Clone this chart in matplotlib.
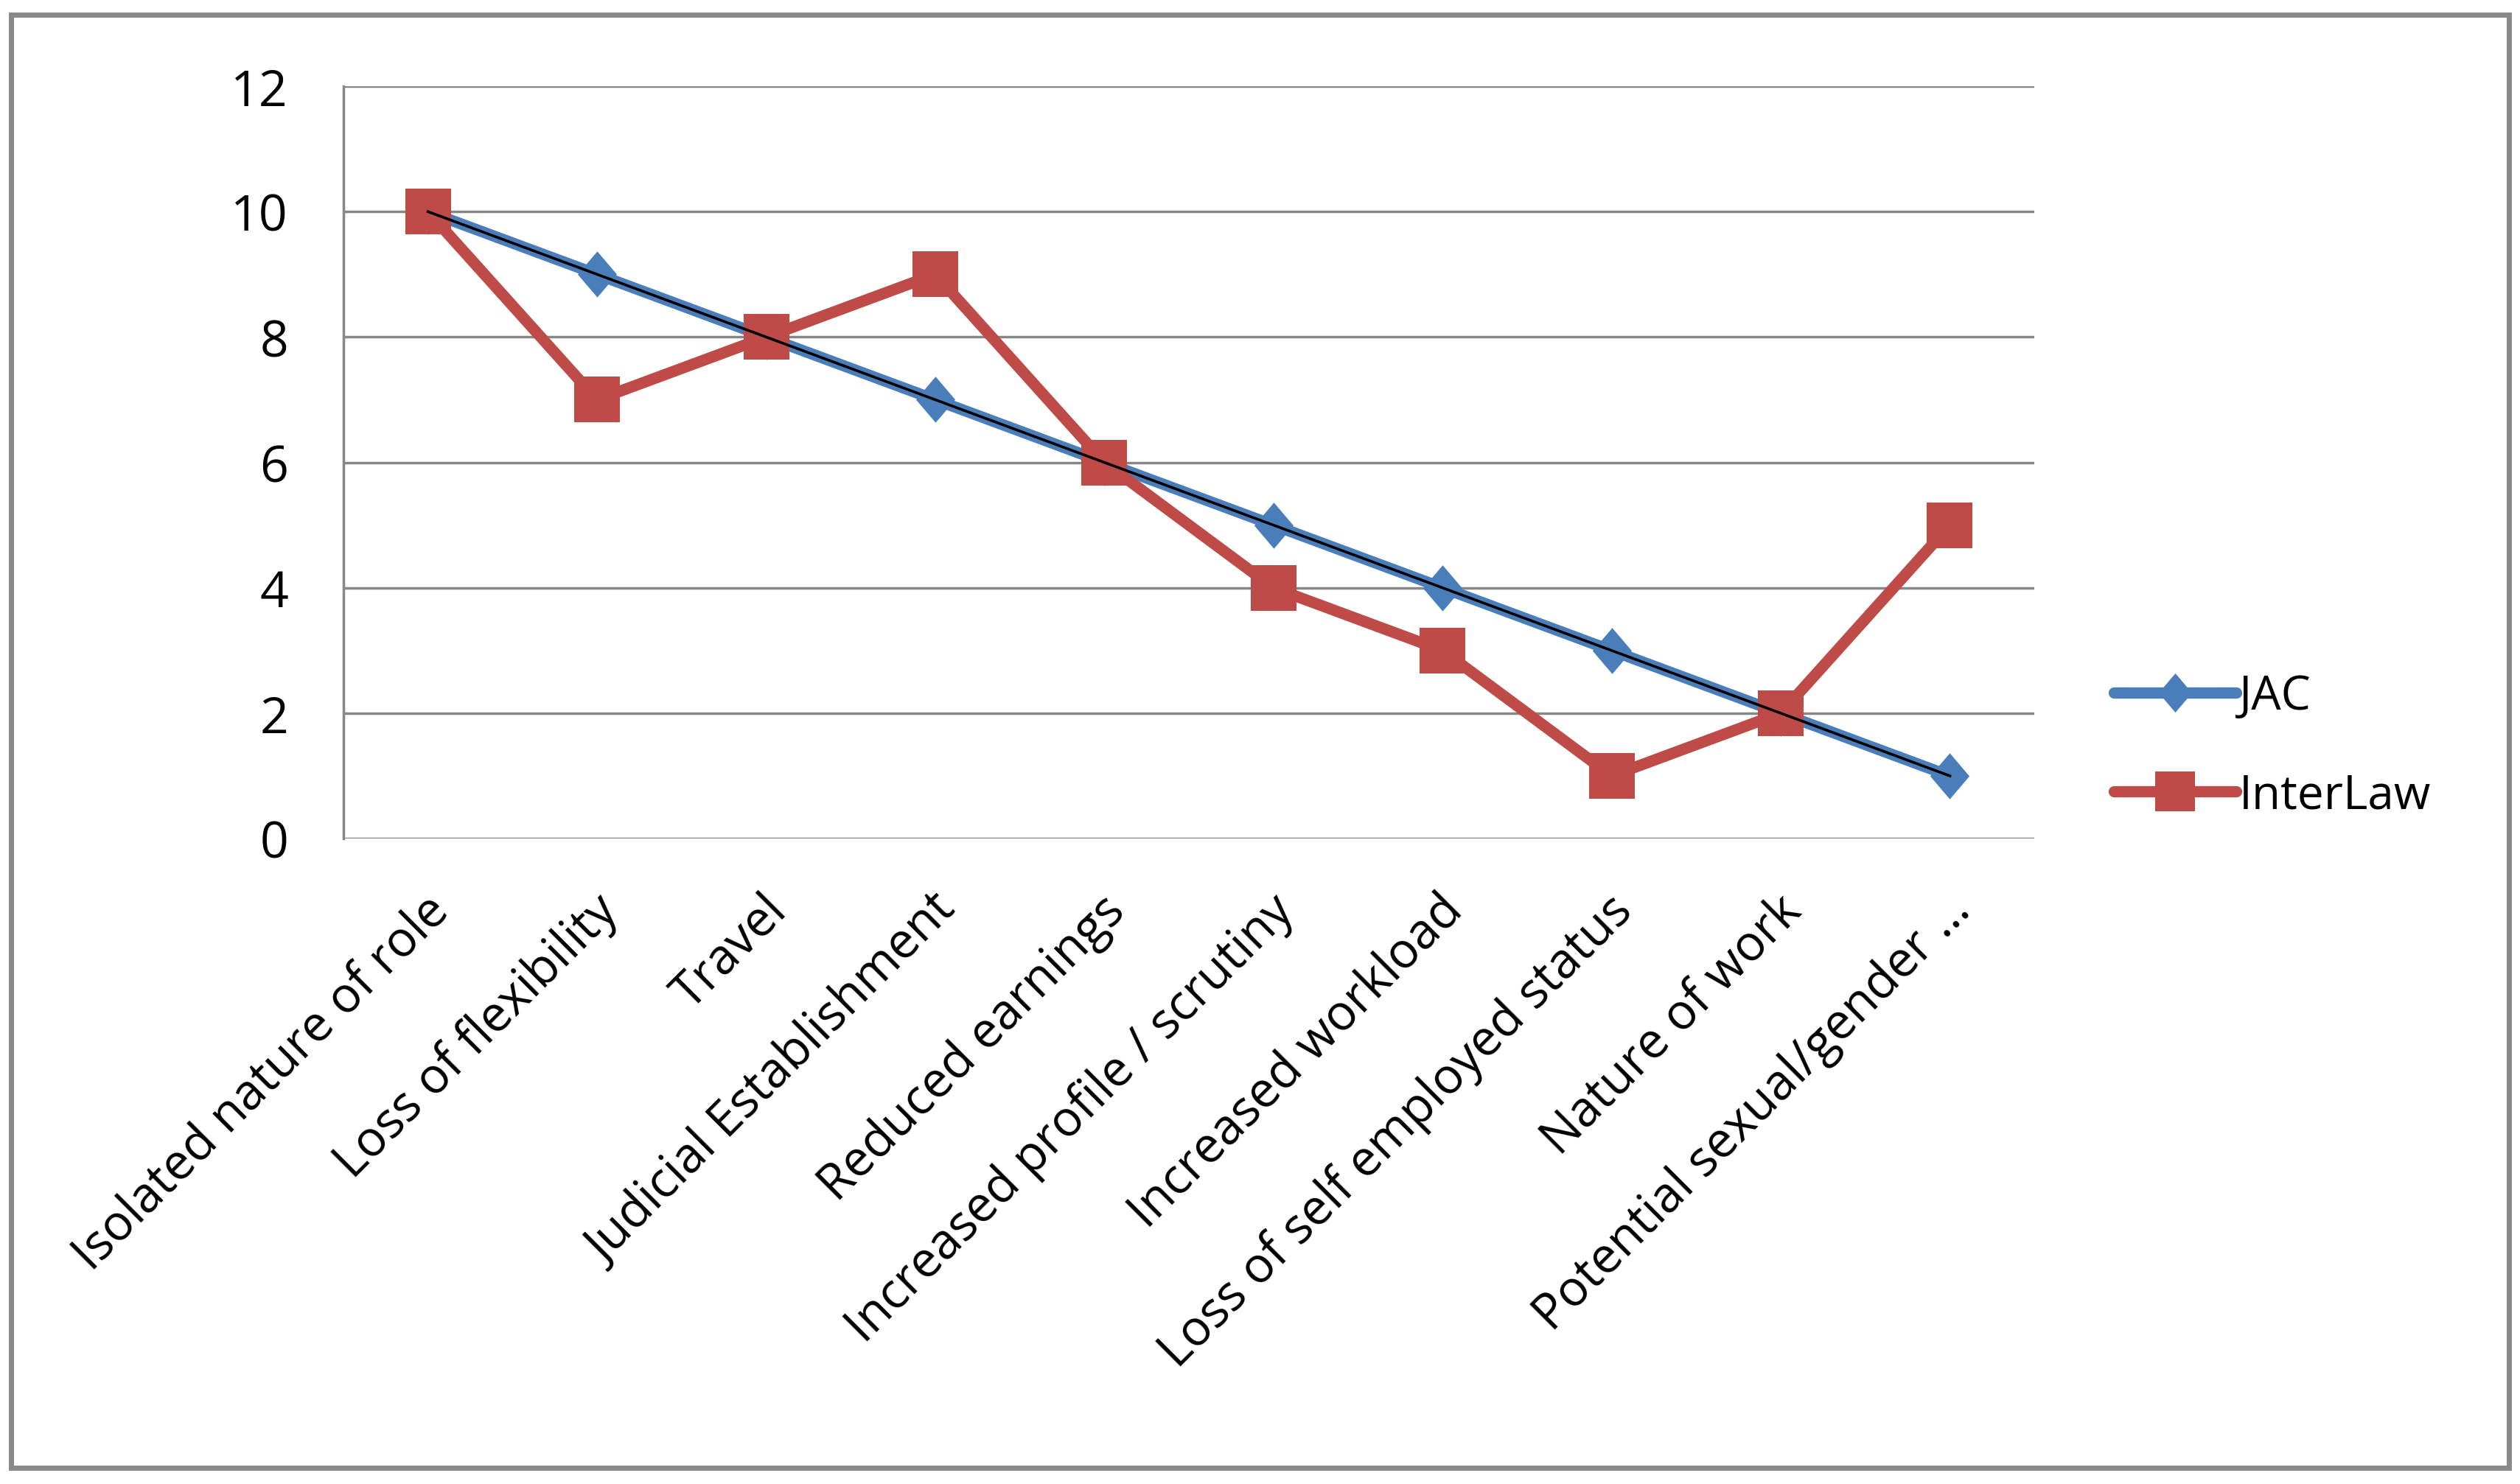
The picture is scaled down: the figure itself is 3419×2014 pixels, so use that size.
import numpy as np
import matplotlib
matplotlib.use("Agg")
import matplotlib.pyplot as plt
import matplotlib.transforms as mtransforms
from matplotlib.path import Path
from matplotlib.patches import Rectangle

# data
categories = ["Isolated nature of role", "Loss of flexibility", "Travel",
              "Judicial Establishment", "Reduced earnings",
              "Increased profile / scrutiny", "Increased workload",
              "Loss of self employed status", "Nature of work",
              "Potential sexual/gender \u2026"]
jac = [10, 9, 8, 7, 6, 5, 4, 3, 2, 1]
interlaw = [10, 7, 8, 9, 6, 4, 3, 1, 2, 5]
y_ticks = [0, 2, 4, 6, 8, 10, 12]

blue = "#4A7EBB"
red = "#BE4B48"
grey = "#878787"

# diamond a bit taller than wide, like the excel marker
diamond = Path([(0, 1), (0.85, 0), (0, -1), (-0.85, 0), (0, 1)],
               [Path.MOVETO, Path.LINETO, Path.LINETO, Path.LINETO, Path.CLOSEPOLY])

fig = plt.figure(figsize=(34.19, 20.15), dpi=100)
ax = fig.add_axes([0.1363, 0.4347, 0.671, 0.5067])

x = np.arange(len(categories))
ax.plot(x, jac, color=blue, lw=11, marker=diamond, ms=45, mew=0,
        solid_capstyle="round", label="JAC", zorder=3)
ax.plot(x, interlaw, color=red, lw=11, marker="s", ms=45, mew=0,
        solid_capstyle="round", label="InterLaw", zorder=4)

# linear trendline of JAC
koef = np.polyfit(x, jac, 1)
trend = np.poly1d(koef)
ax.plot(x, trend(x), color="black", lw=2.6, zorder=5)

ax.set_xlim(-0.5, len(categories) - 0.5)
ax.set_ylim(0, 12)
ax.set_yticks(y_ticks)
ax.set_yticklabels([str(v) for v in y_ticks], family="Open Sans", fontsize=49)
ax.set_xticks(x)
ax.set_xticklabels(categories, rotation=45, ha="right", va="center",
                   rotation_mode="anchor", family="Open Sans", fontsize=48)
ax.tick_params(axis="y", length=0, pad=54)
ax.tick_params(axis="x", length=0, pad=50)

# nudge the slanted labels a little right and down
shift = mtransforms.ScaledTranslation(18 / 100, -18 / 100, fig.dpi_scale_trans)
for lab in ax.get_xticklabels():
    lab.set_transform(lab.get_transform() + shift)

ax.grid(axis="y", color=grey, lw=2.5)
ax.set_axisbelow(True)
for s in ["top", "right", "bottom"]:
    ax.spines[s].set_visible(False)
ax.spines["left"].set_color(grey)
ax.spines["left"].set_linewidth(2.5)

fig.legend(handles=ax.get_lines()[:2], loc="center left",
           bbox_to_anchor=(2868 / 3419, 0.497), frameon=False,
           prop={"family": "Open Sans", "size": 46}, handlelength=2.6,
           handletextpad=0.05, labelspacing=1.1, borderpad=0, borderaxespad=0,
           markerscale=0.85)

# outer chart border
fig.patches.append(Rectangle((0.0044, 0.0109), 0.9912, 0.9787,
                             transform=fig.transFigure, fill=False,
                             edgecolor="#898989", lw=5))

fig.savefig("out.png", dpi=100)
